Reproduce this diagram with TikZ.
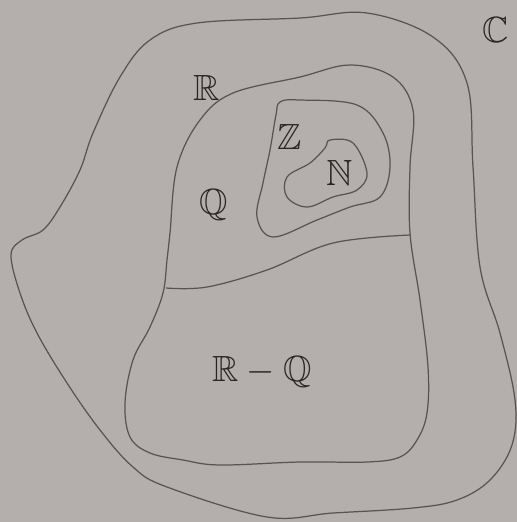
\documentclass[tikz,border=0pt]{standalone}
\usepackage{amsmath,amssymb}
\usepackage{xcolor}
\usepackage{tikz}
\usetikzlibrary{positioning}

\definecolor{paper}{RGB}{180,174,172}
\definecolor{pencil}{RGB}{88,84,84}

\begin{document}
\begin{tikzpicture}[
    x=0.02cm, y=-0.02cm,
    font=\huge,
    set/.style={pencil,line width=0.7pt},
    lbl/.style={inner sep=1pt,text=black!85},
]
    \fill[paper,use as bounding box] (0,0) rectangle (517,522);

    % outer set R
    \draw[set] plot[smooth cycle,tension=0.6] coordinates {
        (197,23) (300,18) (367,13) (433,37) (467,83) (473,167)
        (480,267) (500,333) (515,400) (512,445) (490,480) (457,500)
        (413,508) (333,513) (267,517) (167,487) (133,467) (100,430)
        (67,383) (37,333) (20,293) (11,255) (22,240) (43,230)
        (60,207) (80,170) (93,133) (120,77) (150,40)
    };

    % middle set (Q and R-Q)
    \draw[set] plot[smooth cycle,tension=0.6] coordinates {
        (167,260) (163,293) (150,327) (133,360) (125,403) (130,437)
        (150,453) (183,460) (220,465) (300,462) (367,462) (400,457)
        (417,440) (427,413) (428,367) (420,300) (410,233) (410,167)
        (413,110) (393,77) (350,65) (300,77) (233,93) (200,120)
        (177,167) (170,233)
    };
    \draw[set] plot[smooth,tension=0.6] coordinates {
        (166,288) (207,287) (267,270) (333,243) (410,235)
    };

    % set Z
    \draw[set] plot[smooth cycle,tension=0.6] coordinates {
        (280,102) (300,100) (357,105) (383,133) (390,167)
        (380,197) (350,207) (317,220) (273,237) (257,217)
        (263,183) (270,150) (276,115)
    };

    % set N
    \draw[set] plot[smooth cycle,tension=0.6] coordinates {
        (330,140) (353,143) (367,173) (357,190) (333,197)
        (307,207) (287,197) (287,177) (310,163) (325,148)
    };

    \node[lbl] (lR) at (207,88) {$\mathbb{R}$};
    \node[lbl] (lQ) at (214,205) {$\mathbb{Q}$};
    \node[lbl] (lZ) at (290,137) {$\mathbb{Z}$};
    \node[lbl] (lN) at (340,173) {$\mathbb{N}$};
    \node[lbl] (lRQ) at (262,372) {$\mathbb{R}-\mathbb{Q}$};
    \node[lbl] (lC) at (496,30) {$\mathbb{C}$};
\end{tikzpicture}
\end{document}
